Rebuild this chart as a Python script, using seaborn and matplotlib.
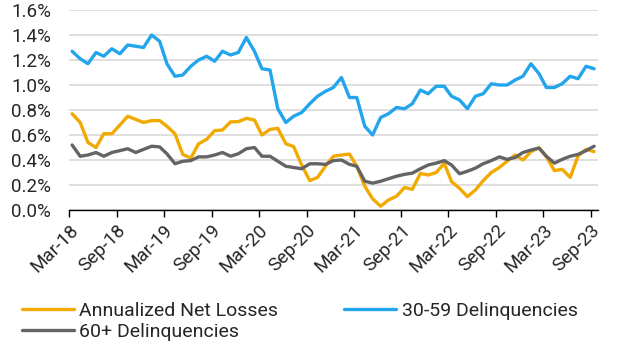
import matplotlib
matplotlib.use('Agg')
import matplotlib.pyplot as plt
import matplotlib.dates as mdates
from matplotlib.ticker import FuncFormatter, MultipleLocator
import pandas as pd
import seaborn as sns

# Monthly series, Mar-18 through Sep-23 (values in %)
months = pd.date_range('2018-03-01', '2023-09-01', freq='MS') + pd.Timedelta(days=12)

net_losses = [0.77, 0.70, 0.54, 0.50, 0.61, 0.61, 0.68, 0.75, 0.725, 0.70,
              0.715, 0.715, 0.67, 0.61, 0.445, 0.415, 0.53, 0.565, 0.635, 0.64,
              0.705, 0.707, 0.733, 0.72, 0.60, 0.645, 0.653, 0.53, 0.507, 0.36,
              0.235, 0.26, 0.352, 0.43, 0.44, 0.447, 0.35, 0.19, 0.09, 0.03,
              0.08, 0.11, 0.18, 0.165, 0.293, 0.28, 0.30, 0.373, 0.227, 0.173,
              0.107, 0.16, 0.235, 0.30, 0.34, 0.39, 0.44, 0.40, 0.467, 0.499,
              0.427, 0.315, 0.325, 0.261, 0.432, 0.485, 0.467]

dq_30_59 = [1.27, 1.21, 1.17, 1.26, 1.23, 1.29, 1.25, 1.32, 1.31, 1.30,
            1.40, 1.35, 1.17, 1.07, 1.08, 1.15, 1.20, 1.23, 1.19, 1.27,
            1.24, 1.26, 1.38, 1.27, 1.13, 1.12, 0.81, 0.70, 0.75, 0.78,
            0.85, 0.91, 0.95, 0.98, 1.06, 0.90, 0.90, 0.67, 0.60, 0.74,
            0.77, 0.82, 0.81, 0.85, 0.96, 0.93, 0.99, 0.99, 0.91, 0.88,
            0.81, 0.91, 0.93, 1.01, 1.00, 1.00, 1.04, 1.07, 1.17, 1.09,
            0.98, 0.98, 1.01, 1.07, 1.05, 1.15, 1.13]

dq_60_plus = [0.52, 0.43, 0.44, 0.46, 0.43, 0.46, 0.475, 0.49, 0.46, 0.485,
              0.51, 0.505, 0.45, 0.37, 0.39, 0.395, 0.425, 0.425, 0.44, 0.46,
              0.43, 0.45, 0.49, 0.50, 0.43, 0.43, 0.39, 0.35, 0.34, 0.33,
              0.37, 0.37, 0.365, 0.395, 0.40, 0.365, 0.35, 0.23, 0.215, 0.23,
              0.25, 0.27, 0.285, 0.295, 0.33, 0.36, 0.375, 0.395, 0.36, 0.29,
              0.31, 0.335, 0.37, 0.395, 0.425, 0.405, 0.42, 0.46, 0.48, 0.495,
              0.43, 0.375, 0.405, 0.43, 0.445, 0.475, 0.51]

series_names = ['Annualized Net Losses', '30-59 Delinquencies', '60+ Delinquencies']
colors = ['#F2A900', '#22A5EC', '#646464']

df = pd.DataFrame({'month': months,
                   series_names[0]: net_losses,
                   series_names[1]: dq_30_59,
                   series_names[2]: dq_60_plus})
long_df = df.melt(id_vars='month', var_name='series', value_name='rate')

sns.set_theme(style='white')
plt.rcParams['font.family'] = ['Roboto', 'DejaVu Sans']

fig = plt.figure(figsize=(6.27, 3.57), dpi=100)
ax = fig.add_axes([69 / 627, 1 - 210 / 357, 529 / 627, 200 / 357])

sns.lineplot(data=long_df, x='month', y='rate', hue='series',
             hue_order=series_names, palette=colors, linewidth=2.4,
             ax=ax, legend=True)

# axes styling
ax.set_ylim(0, 1.6)
ax.set_xlim(pd.Timestamp('2018-03-01'), pd.Timestamp('2023-09-28'))
ax.yaxis.set_major_locator(MultipleLocator(0.2))
ax.yaxis.set_major_formatter(FuncFormatter(lambda v, p: f'{v:.1f}%'))
ax.grid(axis='y', color='#D9D9D9', linewidth=1.2)
ax.set_axisbelow(True)
for side in ['left', 'right', 'top']:
    ax.spines[side].set_visible(False)
ax.spines['bottom'].set_color('black')
ax.spines['bottom'].set_linewidth(1.0)
ax.set_xlabel('')
ax.set_ylabel('')

ax.xaxis.set_major_locator(mdates.MonthLocator(bymonth=[3, 9]))
ax.xaxis.set_major_formatter(mdates.DateFormatter('%b-%y'))
ax.tick_params(axis='x', direction='out', length=5, width=1, color='black',
               bottom=True, labelsize=13.5, pad=3)
ax.tick_params(axis='y', length=0, labelsize=13.5, pad=13)
for lbl in ax.get_xticklabels():
    lbl.set_rotation(45)
    lbl.set_ha('right')
    lbl.set_rotation_mode('anchor')

# legend: column 1 holds losses + 60+, column 2 holds 30-59
handles, labels = ax.get_legend_handles_labels()
order = [0, 2, 1]
ax.get_legend().remove()
fig.legend([handles[i] for i in order], [labels[i] for i in order],
           loc='upper left', bbox_to_anchor=(22 / 627, 1 - 302 / 357),
           ncol=2, frameon=False, fontsize=14, handlelength=2.65,
           handletextpad=0.3, columnspacing=3.4, labelspacing=0.15,
           borderpad=0, borderaxespad=0)

fig.savefig('out.png', dpi=100)
